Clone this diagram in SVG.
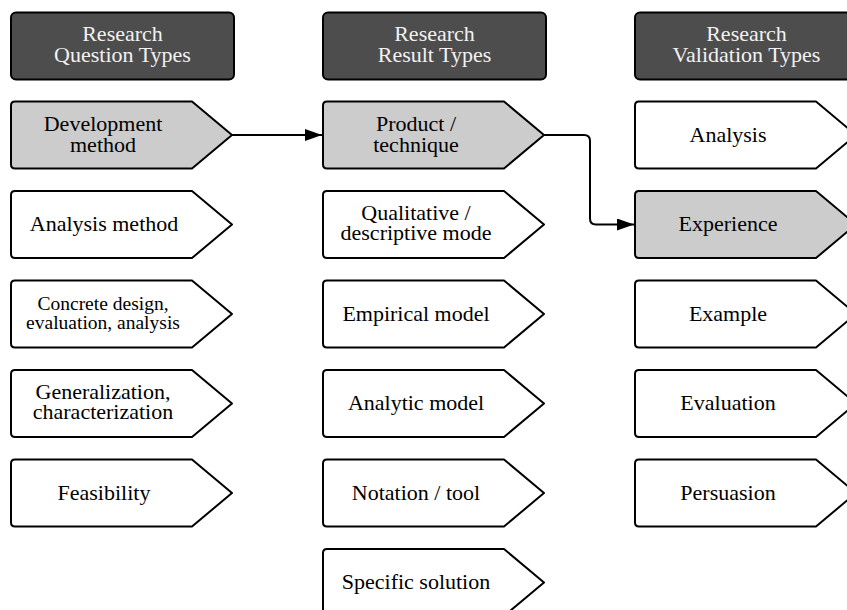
<svg xmlns="http://www.w3.org/2000/svg" width="847" height="610" viewBox="0 0 847 610" font-family="'Liberation Serif', 'Times New Roman', serif">
  <style>
    text { font-family: "Liberation Serif", "Times New Roman", serif; font-size: 22px; text-anchor: middle; fill: #000; }
    .hdr rect { fill: #4d4d4d; stroke: #000; stroke-width: 2; }
    .hdr text { fill: #f2f2f2; }
    .small { font-size: 19.5px; }
    .tag { fill: #fff; stroke: #000; stroke-width: 2; stroke-linejoin: round; }
    .sel .tag { fill: #cccccc; }
    .edge { fill: none; stroke: #000; stroke-width: 2; stroke-linejoin: round; }
  </style>
  <defs>
    <marker id="arrow" markerWidth="17" markerHeight="12" refX="17" refY="6" orient="auto" markerUnits="userSpaceOnUse">
      <path d="M 0,0 L 17,6 L 0,12 Z" fill="#000"/>
    </marker>
  </defs>

  <!-- column headers -->
  <g id="hdr-question" class="hdr">
    <rect x="11" y="12.5" width="223" height="67" rx="5"/>
    <text x="122.5" y="41">Research<tspan x="122.5" dy="21">Question Types</tspan></text>
  </g>
  <g id="hdr-result" class="hdr">
    <rect x="323" y="12.5" width="223" height="67" rx="5"/>
    <text x="434.5" y="41">Research<tspan x="434.5" dy="21">Result Types</tspan></text>
  </g>
  <g id="hdr-validation" class="hdr">
    <rect x="635" y="12.5" width="223" height="67" rx="5"/>
    <text x="746.5" y="41">Research<tspan x="746.5" dy="21">Validation Types</tspan></text>
  </g>

  <!-- question types -->
  <g id="q-development" class="sel">
    <path class="tag" d="M15,101.5 H192 L232,135 L192,168.5 H15 Q11,168.5 11,164.5 V105.5 Q11,101.5 15,101.5 Z"/>
    <text x="103" y="131">Development<tspan x="103" dy="21">method</tspan></text>
  </g>
  <g id="q-analysis">
    <path class="tag" d="M15,191 H192 L232,224.5 L192,258 H15 Q11,258 11,254 V195 Q11,191 15,191 Z"/>
    <text x="104" y="231">Analysis method</text>
  </g>
  <g id="q-concrete">
    <path class="tag" d="M15,280.5 H192 L232,314 L192,347.5 H15 Q11,347.5 11,343.5 V284.5 Q11,280.5 15,280.5 Z"/>
    <text x="103" y="309.5" class="small">Concrete design,<tspan x="103" dy="19.5">evaluation, analysis</tspan></text>
  </g>
  <g id="q-generalization">
    <path class="tag" d="M15,370 H192 L232,403.5 L192,437 H15 Q11,437 11,433 V374 Q11,370 15,370 Z"/>
    <text x="103" y="398.5">Generalization,<tspan x="103" dy="20">characterization</tspan></text>
  </g>
  <g id="q-feasibility">
    <path class="tag" d="M15,459.5 H192 L232,493 L192,526.5 H15 Q11,526.5 11,522.5 V463.5 Q11,459.5 15,459.5 Z"/>
    <text x="104" y="499.5">Feasibility</text>
  </g>

  <!-- result types -->
  <g id="r-product" class="sel">
    <path class="tag" d="M327,101.5 H504 L544,135 L504,168.5 H327 Q323,168.5 323,164.5 V105.5 Q323,101.5 327,101.5 Z"/>
    <text x="416" y="131">Product /<tspan x="416" dy="21">technique</tspan></text>
  </g>
  <g id="r-qualitative">
    <path class="tag" d="M327,191 H504 L544,224.5 L504,258 H327 Q323,258 323,254 V195 Q323,191 327,191 Z"/>
    <text x="416" y="219.5">Qualitative /<tspan x="416" dy="20.5">descriptive mode</tspan></text>
  </g>
  <g id="r-empirical">
    <path class="tag" d="M327,280.5 H504 L544,314 L504,347.5 H327 Q323,347.5 323,343.5 V284.5 Q323,280.5 327,280.5 Z"/>
    <text x="416" y="320.5">Empirical model</text>
  </g>
  <g id="r-analytic">
    <path class="tag" d="M327,370 H504 L544,403.5 L504,437 H327 Q323,437 323,433 V374 Q323,370 327,370 Z"/>
    <text x="416" y="410">Analytic model</text>
  </g>
  <g id="r-notation">
    <path class="tag" d="M327,459.5 H504 L544,493 L504,526.5 H327 Q323,526.5 323,522.5 V463.5 Q323,459.5 327,459.5 Z"/>
    <text x="416" y="499.5">Notation / tool</text>
  </g>
  <g id="r-specific">
    <path class="tag" d="M327,549 H504 L544,582.5 L504,616 H327 Q323,616 323,612 V553 Q323,549 327,549 Z"/>
    <text x="416" y="589">Specific solution</text>
  </g>

  <!-- validation types -->
  <g id="v-analysis">
    <path class="tag" d="M639,101.5 H816 L856,135 L816,168.5 H639 Q635,168.5 635,164.5 V105.5 Q635,101.5 639,101.5 Z"/>
    <text x="728" y="141.5">Analysis</text>
  </g>
  <g id="v-experience" class="sel">
    <path class="tag" d="M639,191 H816 L856,224.5 L816,258 H639 Q635,258 635,254 V195 Q635,191 639,191 Z"/>
    <text x="728" y="231">Experience</text>
  </g>
  <g id="v-example">
    <path class="tag" d="M639,280.5 H816 L856,314 L816,347.5 H639 Q635,347.5 635,343.5 V284.5 Q635,280.5 639,280.5 Z"/>
    <text x="728" y="320.5">Example</text>
  </g>
  <g id="v-evaluation">
    <path class="tag" d="M639,370 H816 L856,403.5 L816,437 H639 Q635,437 635,433 V374 Q635,370 639,370 Z"/>
    <text x="728" y="410">Evaluation</text>
  </g>
  <g id="v-persuasion">
    <path class="tag" d="M639,459.5 H816 L856,493 L816,526.5 H639 Q635,526.5 635,522.5 V463.5 Q635,459.5 639,459.5 Z"/>
    <text x="728" y="499.5">Persuasion</text>
  </g>

  <!-- connectors -->
  <g id="connectors">
    <path class="edge" d="M 232,135 H 322" marker-end="url(#arrow)"/>
    <path class="edge" d="M 544,135 H 584 Q 590,135 590,141 V 218.5 Q 590,224.5 596,224.5 H 634" marker-end="url(#arrow)"/>
  </g>
</svg>
